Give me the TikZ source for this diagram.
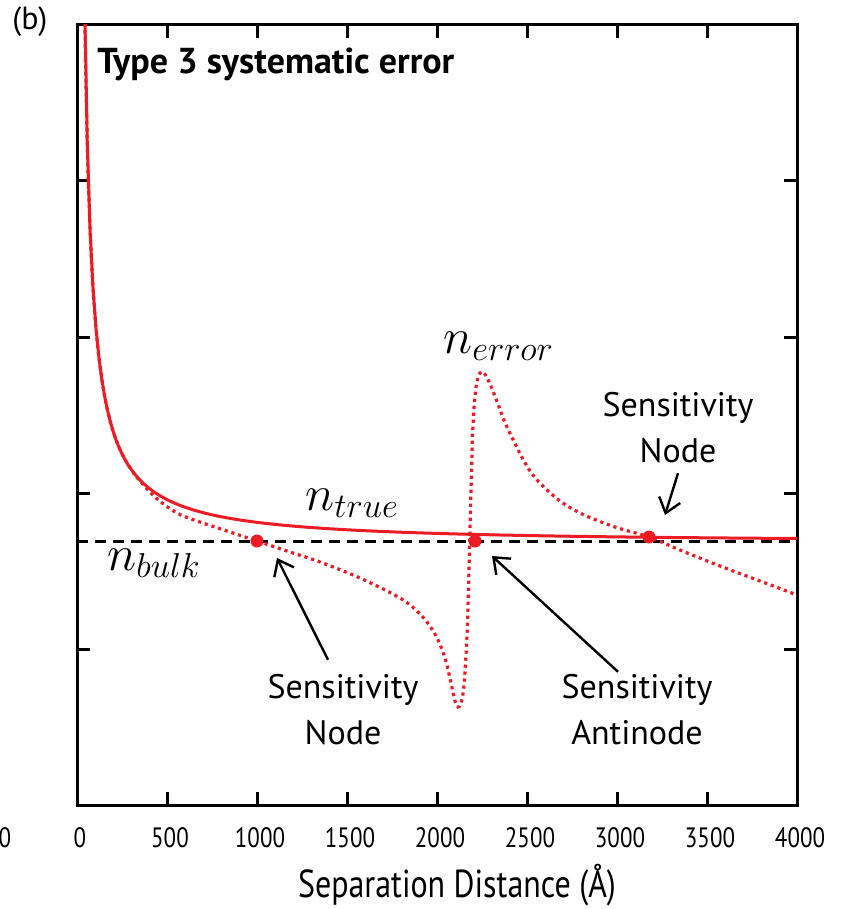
\documentclass[tikz,border=0pt]{standalone}
\usepackage{fontspec}
\setmainfont{PT Sans}
\newfontfamily\condfont[FakeStretch=0.82]{PT Sans}
\usetikzlibrary{arrows.meta}
\definecolor{curvered}{RGB}{237,28,36}

\begin{document}
\begin{tikzpicture}[x=0.5pt,y=-0.5pt,
  frame/.style={line width=1.5pt},
  ntrue/.style={curvered,line width=1.5pt},
  nerror/.style={curvered,line width=1.6pt,dash pattern=on 1.6pt off 1.9pt},
  bulk/.style={line width=1.5pt,dash pattern=on 5.5pt off 3.5pt},
  sens/.style={circle,fill=curvered,inner sep=0pt,minimum size=6.5pt},
  callout/.style={align=center,inner sep=0pt,font=\fontsize{17}{23}\selectfont},
  mathlab/.style={anchor=base west,inner sep=0pt,font=\fontsize{23}{26}\selectfont},
  pointer/.style={line width=1.2pt,-{Straight Barb[length=7pt,width=11pt]}},
  ticklab/.style={anchor=base,inner sep=0pt,font=\condfont\fontsize{14}{16}\selectfont}]
\useasboundingbox (0,0) rectangle (841,909);

% axes box and ticks
\draw[frame] (77,25) rectangle (797,805);
\foreach \k in {1,...,7} {
  \draw[frame] (77+90*\k,805) -- ++(0,-13);
  \draw[frame] (77+90*\k,25) -- ++(0,13);
}
\foreach \yy in {181,337,493,649} {
  \draw[frame] (77,\yy) -- ++(13,0);
  \draw[frame] (797,\yy) -- ++(-13,0);
}
\foreach \k [evaluate=\k as \lab using int(500*\k)] in {0,...,8}
  \node[ticklab] (xl\k) at (80+90*\k,847) {\lab};
\node[ticklab] (xlcut) at (5,847) {0};
\node[anchor=base,inner sep=0pt,font=\condfont\fontsize{19.5}{22}\selectfont] (xtitle) at (457,897) {Separation Distance (Å)};

% bulk level
\draw[bulk] (77,541) -- (797,541);

% curves
\begin{scope}
  \clip (77,25) rectangle (797,805);
  \draw[nerror] plot[domain=84.5:134,samples=40] (\x,{541-4128/(\x-77)*exp(-(\x-77)/873)})
    -- plot[smooth,tension=0.55] coordinates {(134,474) (155,497) (177,513) (200,522) (227,531)
      (257,541) (290,552) (320,562) (360,578) (400,598) (420,614) (435,634) (445,658) (451,683)
      (455,701) (458,707) (461,703) (464,685) (467,635) (469,570) (471,490) (473,425) (476,387)
      (480,373) (484,373) (490,384) (498,404) (507,427) (530,471) (555,497) (580,513) (615,527)
      (649,537) (680,550) (720,566) (760,581) (797,595)};
  \draw[ntrue] plot[domain=84.5:797,samples=250] (\x,{541-4128/(\x-77)*exp(-(\x-77)/873)});
\end{scope}

% sensitivity points
\node[sens] (node1) at (257,541) {};
\node[sens] (anti) at (475,541) {};
\node[sens] (node2) at (649,537) {};

% labels
\node[anchor=base west,inner sep=0pt,font=\fontsize{16}{19}\selectfont] (panel) at (12,30) {(b)};
\node[anchor=base west,inner sep=0pt,font=\bfseries\fontsize{18}{21}\selectfont] (title) at (97,74) {Type 3 systematic error};
\node[mathlab] (lerror) at (443,353) {$n_{error}$};
\node[mathlab] (ltrue) at (305,510) {$n_{true}$};
\node[mathlab] (lbulk) at (107,570) {$n_{bulk}$};

\node[callout] (cnode1) at (343,709.5) {Sensitivity\\Node};
\node[callout] (canti) at (637,709.5) {Sensitivity\\Antinode};
\node[callout] (cnode2) at (678,427.5) {Sensitivity\\Node};

% arrows
\draw[pointer] ([xshift=-7.5pt,yshift=7pt]cnode1.north) -- ([xshift=10pt,yshift=-8.5pt]node1.center);
\draw[pointer] ([xshift=-9.5pt,yshift=1pt]canti.north) -- ([xshift=8.5pt,yshift=-7.5pt]anti.center);
\draw[pointer] ([yshift=-5pt]cnode2.south) -- ([xshift=8pt,yshift=11pt]node2.center);
\end{tikzpicture}
\end{document}
